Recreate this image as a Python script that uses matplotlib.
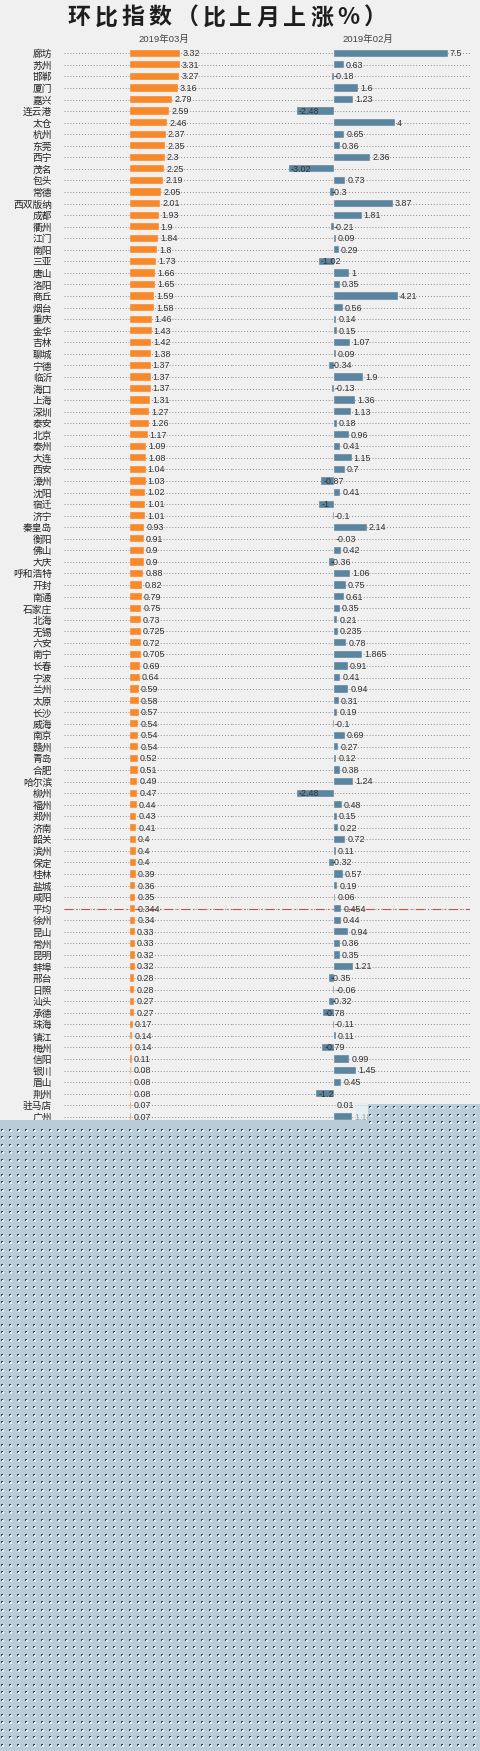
import numpy as np
import matplotlib
matplotlib.use("Agg")
import matplotlib.pyplot as plt
from matplotlib.patches import Polygon

# city list, top to bottom
cities = ['廊坊', '苏州', '邯郸', '厦门', '嘉兴', '连云港', '太仓', '杭州', '东莞', '西宁',
          '茂名', '包头', '常德', '西双版纳', '成都', '衢州', '江门', '南阳', '三亚', '唐山',
          '洛阳', '商丘', '烟台', '重庆', '金华', '吉林', '聊城', '宁德', '临沂', '海口',
          '上海', '深圳', '泰安', '北京', '泰州', '大连', '西安', '漳州', '沈阳', '宿迁',
          '济宁', '秦皇岛', '衡阳', '佛山', '大庆', '呼和浩特', '开封', '南通', '石家庄', '北海',
          '无锡', '六安', '南宁', '长春', '宁波', '兰州', '太原', '长沙', '威海', '南京',
          '赣州', '青岛', '合肥', '哈尔滨', '柳州', '福州', '郑州', '济南', '韶关', '滨州',
          '保定', '桂林', '盐城', '咸阳', '平均', '徐州', '昆山', '常州', '昆明', '蚌埠',
          '邢台', '日照', '汕头', '承德', '珠海', '镇江', '梅州', '信阳', '银川', '眉山',
          '荆州', '驻马店', '广州']

# 2019-03 month on month change (%)
mar_vals = [3.32, 3.31, 3.27, 3.16, 2.79, 2.59, 2.46, 2.37, 2.35, 2.3,
            2.25, 2.19, 2.05, 2.01, 1.93, 1.9, 1.84, 1.8, 1.73, 1.66,
            1.65, 1.59, 1.58, 1.46, 1.43, 1.42, 1.38, 1.37, 1.37, 1.37,
            1.31, 1.27, 1.26, 1.17, 1.09, 1.08, 1.04, 1.03, 1.02, 1.01,
            1.01, 0.93, 0.91, 0.9, 0.9, 0.88, 0.82, 0.79, 0.75, 0.73,
            0.725, 0.72, 0.705, 0.69, 0.64, 0.59, 0.58, 0.57, 0.54, 0.54,
            0.54, 0.52, 0.51, 0.49, 0.47, 0.44, 0.43, 0.41, 0.4, 0.4,
            0.4, 0.39, 0.36, 0.35, 0.344, 0.34, 0.33, 0.33, 0.32, 0.32,
            0.28, 0.28, 0.27, 0.27, 0.17, 0.14, 0.14, 0.11, 0.08, 0.08,
            0.08, 0.07, 0.07]

# 2019-02 month on month change (%)
feb_vals = [7.5, 0.63, -0.18, 1.6, 1.23, -2.48, 4, 0.65, 0.36, 2.36,
            -3.02, 0.73, -0.3, 3.87, 1.81, -0.21, 0.09, 0.29, -1.02, 1,
            0.35, 4.21, 0.56, 0.14, 0.15, 1.07, 0.09, -0.34, 1.9, -0.13,
            1.36, 1.13, 0.18, 0.96, 0.41, 1.15, 0.7, -0.87, 0.41, -1,
            -0.1, 2.14, -0.03, 0.42, -0.36, 1.06, 0.75, 0.61, 0.35, 0.21,
            0.235, 0.78, 1.865, 0.91, 0.41, 0.94, 0.31, 0.19, -0.1, 0.69,
            0.27, 0.12, 0.38, 1.24, -2.48, 0.48, 0.15, 0.22, 0.72, 0.11,
            -0.32, 0.57, 0.19, 0.06, 0.454, 0.44, 0.94, 0.36, 0.35, 1.21,
            -0.35, -0.06, -0.32, -0.78, -0.11, 0.11, -0.79, 0.99, 1.45, 0.45,
            -1.2, 0.01, 1.18]

col_titles = ['2019年03月', '2019年02月']
title = '环比指数（比上月上涨%）'

W, H = 480, 1751
BG = '#f0f0f0'
ORANGE = '#f7892b'
BLUE = '#5a85a0'

plt.rcParams['font.family'] = ['Liberation Sans', 'Noto Sans CJK SC', 'DejaVu Sans']

fig = plt.figure(figsize=(W / 100, H / 100), dpi=100, facecolor=BG)

n = len(cities)
y = np.arange(n)
px = 15.1          # pixels per percent, both panels
top, row_h = 47.5, 11.56
bottom = top + n * row_h


def box(x0, x1):
    # pixel box -> figure fraction
    return [x0 / W, 1 - bottom / H, (x1 - x0) / W, (bottom - top) / H]


def panel(ax, vals, zero_px, x0, x1, color):
    ax.set_xlim((x0 - zero_px) / px, (x1 - zero_px) / px)
    ax.set_ylim(n - 0.5, -0.5)
    ax.set_facecolor('none')
    for s in ax.spines.values():
        s.set_visible(False)
    ax.set_xticks([])
    ax.set_yticks(y)
    ax.tick_params(axis='y', length=0)
    ax.grid(axis='y', color='#8a8a8a', linestyle=(0, (1, 2)), linewidth=0.7)
    ax.set_axisbelow(True)
    ax.barh(y, vals, height=0.62, color=color, edgecolor='#fbe9dc', linewidth=0.3, zorder=2)
    for i, v in enumerate(vals):
        ax.annotate('{:g}'.format(v), (v, i), xytext=(1.5, -0.3), textcoords='offset points',
                    ha='left', va='center', fontsize=6.4, color='#333333', zorder=3)
    # average row
    avg = cities.index('平均')
    ax.axhline(avg, color='#c0504d', linestyle=(0, (8, 3, 1, 3)), linewidth=0.8, zorder=1.5)


ax1 = fig.add_axes(box(64, 232))
panel(ax1, mar_vals, 130, 64, 232, ORANGE)
ax1.set_yticklabels(cities, fontsize=7, color='#222222',
                    family=['Noto Sans CJK SC', 'DejaVu Sans'])
ax1.tick_params(axis='y', pad=8.5)

ax2 = fig.add_axes(box(232, 470))
panel(ax2, feb_vals, 334.3, 232, 470, BLUE)
ax2.set_yticklabels([])

# column headers
fig.text(164 / W, 1 - 39.5 / H, col_titles[0], ha='center', va='center', fontsize=6.8,
         color='#444444', family=['Liberation Sans', 'Noto Sans CJK SC'])
fig.text(368 / W, 1 - 39.5 / H, col_titles[1], ha='center', va='center', fontsize=6.8,
         color='#444444', family=['Liberation Sans', 'Noto Sans CJK SC'])

# title, spaced out one character at a time
for k, ch in enumerate(title):
    fig.text((78.8 + k * 27.0) / W, 1 - 18 / H, ch, ha='center', va='center', fontsize=16.5,
             weight='bold', color='#1e1e1e', family=['Noto Sans CJK SC', 'DejaVu Sans'])

# dotted blue-grey cover over the lower part of the screenshot
cov = fig.add_axes([0, 0, 1, 1], zorder=10)
cov.set_xlim(0, W)
cov.set_ylim(H, 0)
cov.axis('off')
cov.patch.set_visible(False)
cover = [(0, 1751), (0, 1120), (368, 1120), (368, 1104), (480, 1104), (480, 1751)]
cov.add_patch(Polygon(cover, closed=True, facecolor='#b9cdd9', linewidth=0))
cov.add_patch(Polygon([(355, 1103), (368, 1103), (368, 1120), (355, 1120)], closed=True,
                      facecolor='#e2edf3', linewidth=0, alpha=0.6))
gx, gy = np.meshgrid(np.arange(2, W, 8), np.arange(1107, H, 7.5))
gx, gy = gx.ravel(), gy.ravel()
keep = (gy > 1122) | (gx >= 370)
cov.scatter(gx[keep], gy[keep], marker='s', s=1.3, color='#33495c', linewidths=0)
cov.scatter(gx[keep] + 1.2, gy[keep] + 1.2, marker='s', s=0.8, color='#eef3f6', linewidths=0)

fig.savefig('out.png', dpi=100, facecolor=BG)
